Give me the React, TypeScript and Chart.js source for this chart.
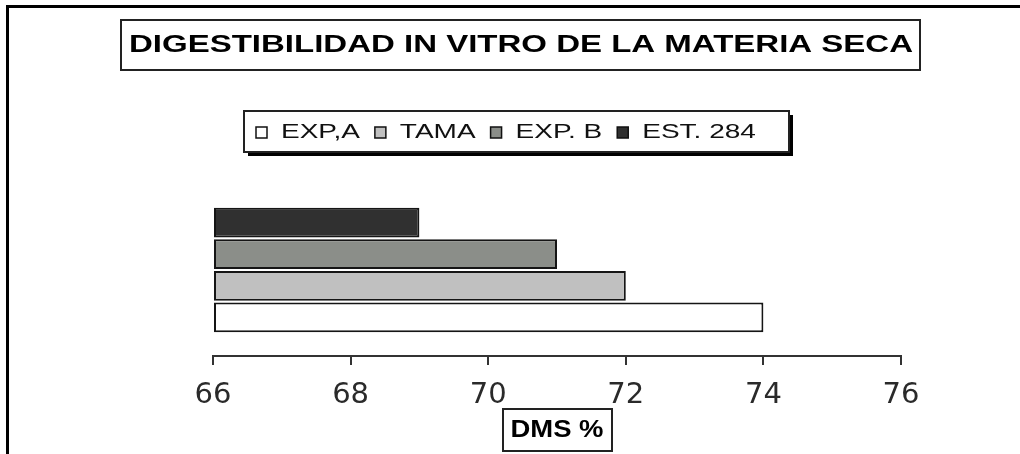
import React, { useEffect, useRef } from "react";
import { Chart, registerables } from "chart.js";

Chart.register(...registerables);

// ---- data ----
const categories = ["DMS %"];
const seriesNames = ["EXP,A", "TAMA", "EXP. B", "EST. 284"];
const seriesValues = [74, 72, 71, 69];
const seriesColors = ["#ffffff", "#c0c0c0", "#8b8e89", "#303030"];
const axisMin = 66;
const axisMax = 76;
const axisStep = 2;
const titleText = "DIGESTIBILIDAD IN VITRO DE LA MATERIA SECA";
const axisTitleText = "DMS %";

function drawFit(ctx: CanvasRenderingContext2D, text: string, cx: number, baseline: number, font: string, width: number) {
  ctx.save();
  ctx.font = font;
  const w = ctx.measureText(text).width;
  ctx.translate(cx, baseline);
  ctx.scale(width / w, 1);
  ctx.textAlign = "center";
  ctx.textBaseline = "alphabetic";
  ctx.fillText(text, 0, 0);
  ctx.restore();
}

function drawScaledLeft(ctx: CanvasRenderingContext2D, text: string, x: number, baseline: number, font: string, s: number) {
  ctx.save();
  ctx.font = font;
  const w = ctx.measureText(text).width * s;
  ctx.translate(x, baseline);
  ctx.scale(s, 1);
  ctx.textAlign = "left";
  ctx.textBaseline = "alphabetic";
  ctx.fillText(text, 0, 0);
  ctx.restore();
  return w;
}

const decorPlugin = {
  id: "decor",
  afterDraw(chart: any) {
    const ctx: CanvasRenderingContext2D = chart.ctx;
    ctx.save();
    // outer frame (top and left)
    ctx.fillStyle = "#000";
    ctx.fillRect(6, 5, 1014, 3);
    ctx.fillRect(6, 5, 3, 449);

    // title box
    ctx.strokeStyle = "#222";
    ctx.lineWidth = 2;
    ctx.strokeRect(121, 20, 799, 50);
    ctx.fillStyle = "#000";
    drawFit(ctx, titleText, 521, 52, 'bold 24px "Liberation Sans", Arial, sans-serif', 784);

    // legend box with shadow
    ctx.fillStyle = "#000";
    ctx.fillRect(248, 115, 545, 41);
    ctx.fillStyle = "#fff";
    ctx.fillRect(244, 111, 545, 41);
    ctx.strokeStyle = "#222";
    ctx.lineWidth = 2;
    ctx.strokeRect(244, 111, 545, 41);

    let x = 256;
    for (let i = 0; i < seriesNames.length; i++) {
      ctx.fillStyle = seriesColors[i];
      ctx.fillRect(x, 127, 11, 11);
      ctx.strokeStyle = "#111";
      ctx.lineWidth = 1.5;
      ctx.strokeRect(x, 127, 11, 11);
      ctx.fillStyle = "#111";
      const w = drawScaledLeft(ctx, seriesNames[i], x + 25, 138, '20px "Liberation Sans", Arial, sans-serif', 1.4);
      x = x + 25 + w + 15;
    }

    // axis title box
    ctx.strokeStyle = "#222";
    ctx.lineWidth = 2;
    ctx.strokeRect(503, 409, 109, 42);
    ctx.fillStyle = "#000";
    drawFit(ctx, axisTitleText, 557, 437, 'bold 24px "Liberation Sans", Arial, sans-serif', 93);
    ctx.restore();
  },
};

export default function App() {
  const ref = useRef<HTMLCanvasElement | null>(null);
  useEffect(() => {
    if (!ref.current) return;
    const order = seriesNames.map((_, i) => i).reverse();
    const chart = new Chart(ref.current, {
      type: "bar",
      data: {
        labels: categories,
        datasets: order.map((i) => ({
          label: seriesNames[i],
          data: [seriesValues[i]],
          base: axisMin,
          backgroundColor: seriesColors[i],
          borderColor: "#151515",
          borderWidth: 2,
          borderSkipped: false,
          barPercentage: 0.94,
          categoryPercentage: 0.735,
          clip: false,
        })),
      },
      options: {
        indexAxis: "y",
        animation: false,
        responsive: false,
        maintainAspectRatio: false,
        layout: { padding: { left: 213, right: 119, top: 184, bottom: 0 } },
        plugins: {
          legend: { display: false },
          title: { display: false },
          tooltip: { enabled: false },
        },
        scales: {
          y: { type: "category", display: false },
          x: {
            type: "linear",
            min: axisMin,
            max: axisMax,
            ticks: {
              stepSize: axisStep,
              color: "#2a2a2a",
              padding: 13,
              font: { family: '"DejaVu Sans", sans-serif', size: 29 },
            },
            grid: {
              drawOnChartArea: false,
              drawTicks: true,
              tickLength: 9,
              color: "#333",
              lineWidth: 2,
            },
            border: { display: true, color: "#333", width: 2 },
            afterFit: (scale: any) => {
              scale.height = 98;
            },
          },
        },
      },
      plugins: [decorPlugin],
    } as any);
    return () => chart.destroy();
  }, []);
  return (
    <div style={{ position: "fixed", left: 0, top: 0, width: 1020, height: 454, background: "#fff" }}>
      <canvas ref={ref} width={1020} height={454} style={{ display: "block" }} />
    </div>
  );
}
